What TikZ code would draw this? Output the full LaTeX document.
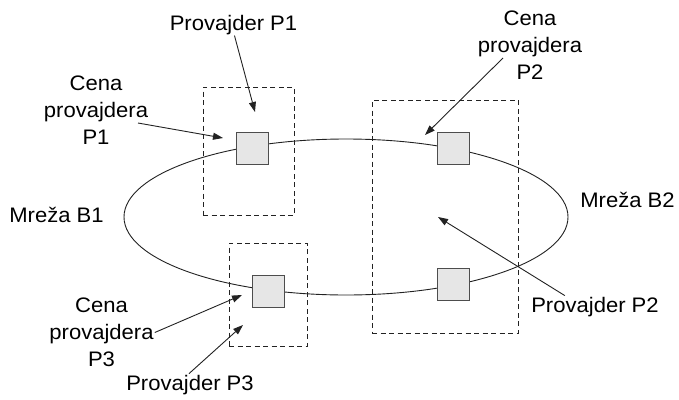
\documentclass[tikz,border=0pt]{standalone}
\usepackage{fontspec}
\setmainfont{Liberation Sans}[FakeStretch=1.05]
\usetikzlibrary{arrows.meta}
\definecolor{lineink}{HTML}{222222}
\definecolor{boxfill}{HTML}{E6E6E6}
\definecolor{boxline}{HTML}{4D4D4D}
\tikzset{
  every node/.style={font=\fontsize{21}{27}\selectfont, text=black},
  provider/.style={draw=boxline, fill=boxfill, line width=0.9pt, minimum size=32pt, inner sep=0pt},
  dombox/.style={draw=lineink, line width=0.9pt, dash pattern=on 5pt off 3.5pt, inner sep=0pt},
  lbl/.style={inner sep=1pt, align=center},
  pointer/.style={draw=lineink, line width=0.9pt, -{Triangle[length=10pt,width=7pt]}},
  ring/.style={draw=lineink, line width=0.9pt}
}
\begin{document}
\begin{tikzpicture}[x=1pt,y=-1pt]
\useasboundingbox (0,0) rectangle (679,399);
% provider domains
\node[dombox, minimum width=91pt, minimum height=128pt] (d1) at (248.5,151) {};
\node[dombox, minimum width=146pt, minimum height=233pt] (d2) at (445,216.5) {};
\node[dombox, minimum width=78pt, minimum height=103pt] (d3) at (268,294.5) {};
% ring connecting the two networks
\draw[ring] (346,217) ellipse [x radius=222, y radius=78];
% provider nodes on the ring
\node[provider] (p1) at (252,148) {};
\node[provider] (p2a) at (453.5,148.5) {};
\node[provider] (p3) at (268.5,291) {};
\node[provider] (p2b) at (453.5,284.5) {};
% labels
\node[lbl, anchor=base] (pp1) at (233.5,30) {Provajder P1};
\node[lbl] (cp1) at (96,110.5) {Cena\\provajdera\\P1};
\node[lbl] (cp2) at (530,45.5) {Cena\\provajdera\\P2};
\node[lbl, anchor=base] (mb1) at (56.5,222) {Mreža B1};
\node[lbl, anchor=base] (mb2) at (627.5,207) {Mreža B2};
\node[lbl, anchor=base] (pp2) at (595,312) {Provajder P2};
\node[lbl] (cp3) at (101.5,332.5) {Cena\\provajdera\\P3};
\node[lbl, anchor=base] (pp3) at (190,390) {Provajder P3};
% arrow ends
\coordinate (s1) at (138,123);
\coordinate (s2) at (503,58);
\coordinate (t1) at (255,112);
\coordinate (t2) at (223,138);
\coordinate (t3) at (425,135);
\coordinate (t4) at (438,217);
\coordinate (t5) at (242,295);
\coordinate (t6) at (243,325);
% pointers
\draw[pointer] (pp1.-85) -- (t1);
\draw[pointer] (s1) -- (t2);
\draw[pointer] (s2) -- (t3);
\draw[pointer] (pp2.160) -- (t4);
\draw[pointer] (cp3.east) -- (t5);
\draw[pointer] (pp3.95) -- (t6);
\end{tikzpicture}
\end{document}
